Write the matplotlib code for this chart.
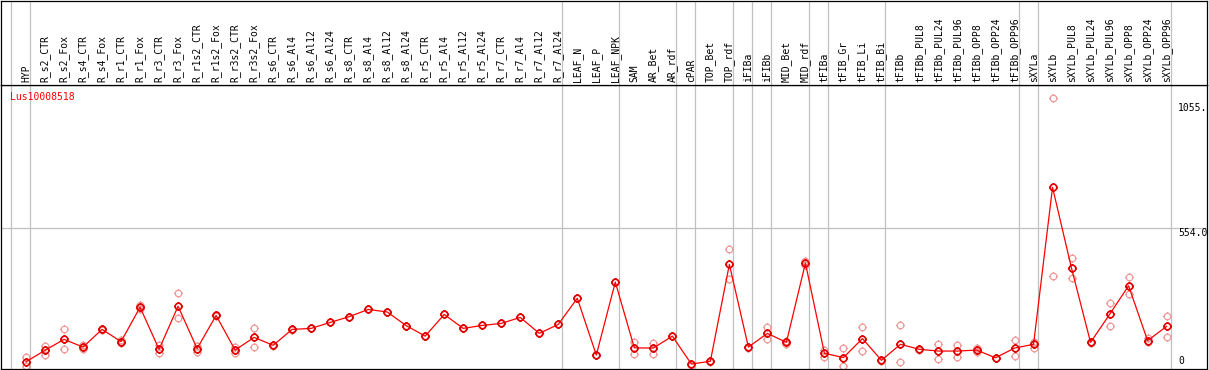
import numpy as np
import matplotlib
matplotlib.use("Agg")
import matplotlib.pyplot as plt
from matplotlib.path import Path
from matplotlib import transforms

# sample names (header labels)
samples = [
    "HYP", "R_s2_CTR", "R_s2_Fox", "R_s4_CTR", "R_s4_Fox", "R_r1_CTR", "R_r1_Fox",
    "R_r3_CTR", "R_r3_Fox", "R_r1s2_CTR", "R_r1s2_Fox", "R_r3s2_CTR", "R_r3s2_Fox",
    "R_s6_CTR", "R_s6_Al4", "R_s6_Al12", "R_s6_Al24", "R_s8_CTR", "R_s8_Al4",
    "R_s8_Al12", "R_s8_Al24", "R_r5_CTR", "R_r5_Al4", "R_r5_Al12", "R_r5_Al24",
    "R_r7_CTR", "R_r7_Al4", "R_r7_Al12", "R_r7_Al24", "LEAF_N", "LEAF_P", "LEAF_NPK",
    "SAM", "AR_Bet", "AR_rdf", "cPAR", "TOP_Bet", "TOP_rdf", "iFIBa", "iFIBb",
    "MID_Bet", "MID_rdf", "tFIBa", "tFIB_Gr", "tFIB_Li", "tFIB_Bi", "tFIBb",
    "tFIBb_PUL8", "tFIBb_PUL24", "tFIBb_PUL96", "tFIBb_OPP8", "tFIBb_OPP24",
    "tFIBb_OPP96", "sXYLa", "sXYLb", "sXYLb_PUL8", "sXYLb_PUL24", "sXYLb_PUL96",
    "sXYLb_OPP8", "sXYLb_OPP24", "sXYLb_OPP96",
]

# mean expression per sample
mean_expr = [
    17, 63, 107, 76, 147, 98, 236, 67, 240, 70, 203, 64, 115,
    83, 147, 151, 175, 198, 227, 217, 162, 120, 207, 151, 163,
    171, 195, 131, 167, 272, 44, 337,
    73, 72, 120, 8, 19, 408, 76, 131, 95, 413,
    51, 34, 110, 23, 87,
    67, 60, 60, 64, 33, 72,
    87, 717, 392, 95, 207, 322, 102, 159,
]

# two replicates per sample
rep_a = [
    35, 80, 147, 84, 150, 104, 245, 84, 292, 82, 205, 78, 151,
    86, 148, 151, 175, 198, 227, 217, 162, 120, 207, 151, 163,
    171, 195, 131, 167, 272, 44, 337,
    97, 94, 120, 10, 21, 468, 78, 157, 101, 423,
    64, 72, 155, 25, 163,
    69, 87, 83, 71, 34, 103,
    95, 1075, 432, 97, 252, 357, 111, 199,
]
rep_b = [
    0, 44, 67, 70, 144, 92, 228, 52, 191, 57, 201, 52, 78,
    80, 146, 151, 175, 198, 227, 217, 162, 120, 207, 151, 163,
    171, 195, 131, 167, 272, 44, 337,
    50, 50, 120, 6, 17, 348, 74, 107, 89, 405,
    37, 0, 62, 21, 15,
    65, 29, 36, 55, 32, 39,
    74, 360, 352, 93, 159, 288, 95, 115,
]

# index of last sample in each group (separator drawn just after it)
group_ends = [-1, 0, 28, 31, 34, 35, 37, 38, 39, 41, 42, 45, 52, 53, 60]
y_ticks = [0, 554.0, 1055.0]
y_labels = ["0", "554.0", "1055."]
gene = "Lus10008518"

W, H = 1209, 370
fig = plt.figure(figsize=(W / 100, H / 100), dpi=100)
font = dict(family="DejaVu Sans Mono", fontsize=7)

x = np.arange(len(samples))
xlim = ((1 - 26) / 19.01, (1207 - 26) / 19.01)

# plot area: pixels 85..369 vertically
ax = fig.add_axes([1 / W, 1 / H, 1206 / W, 284 / H])
ax.set_xlim(*xlim)
ax.set_ylim(-12, 1128)
ax.set_xticks([])
ax.set_yticks([])
for s in ax.spines.values():
    s.set_color("black")
    s.set_linewidth(0.9)

# header area: pixels 0..85
hx = fig.add_axes([1 / W, 285 / H, 1206 / W, 84.5 / H])
hx.set_xlim(*xlim)
hx.set_ylim(0, 1)
hx.set_xticks([])
hx.set_yticks([])
for s in hx.spines.values():
    s.set_color("black")
    s.set_linewidth(0.9)

for g in group_ends:
    ax.axvline(g + 0.21, color="#c0c0c0", lw=0.9, zorder=0)
    hx.axvline(g + 0.21, color="#c0c0c0", lw=0.9, zorder=0)
ax.axhline(554.0, color="#c0c0c0", lw=0.9, zorder=0)

for i, name in enumerate(samples):
    hx.text(i, 0.03, name, rotation=90, ha="center", va="bottom", **font)

# ring marker with small ticks
marker = Path.make_compound_path(
    Path.unit_circle(),
    Path([(0, 1), (0, 1.35)]), Path([(0, -1), (0, -1.35)]),
    Path([(1, 0), (1.35, 0)]), Path([(-1, 0), (-1.35, 0)]),
)

for reps in (rep_a, rep_b):
    ax.plot(x, reps, ls="none", marker=marker, ms=6.4, mfc="none",
            mec="#f09a9a", mew=0.9, zorder=2)
ax.plot(x, mean_expr, color="red", lw=0.9, zorder=3)
ax.plot(x, mean_expr, ls="none", marker=marker, ms=6.4, mfc="none",
        mec="#e00000", mew=1.2, zorder=4)

ax.text(9 / 1206, 1 - 12 / 284, gene, color="red", ha="left", va="center",
        transform=ax.transAxes, **font)

tr = transforms.blended_transform_factory(ax.transAxes, ax.transData)
for v, lab in zip(y_ticks, y_labels):
    ax.text(1177 / 1206, v, lab, ha="left", va="bottom" if v == 0 else "top",
            transform=tr, **font)

fig.savefig("out.png", dpi=100)
